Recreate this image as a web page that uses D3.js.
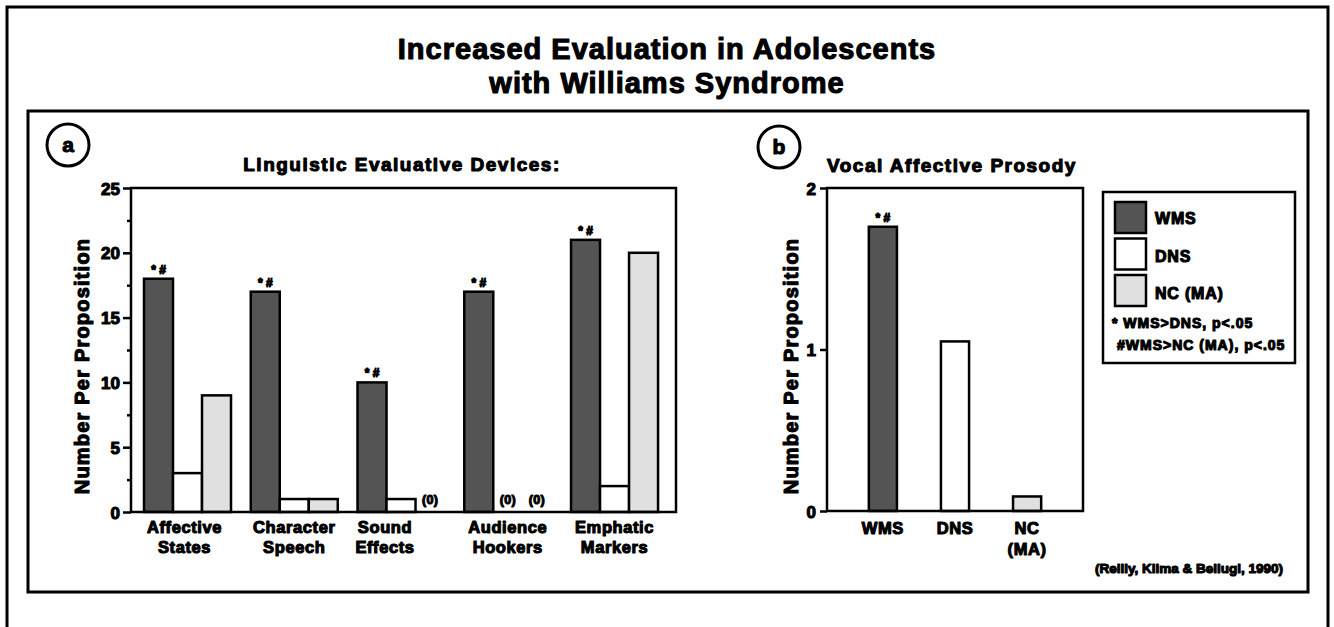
<!DOCTYPE html>
<html>
<head>
<meta charset="utf-8">
<script src="https://cdn.jsdelivr.net/npm/d3@7/dist/d3.min.js"></script>
<style>
  html, body { margin: 0; padding: 0; background: #fff; }
  svg { display: block; }
  text { font-family: "Liberation Sans", Arial, Helvetica, sans-serif; font-weight: bold; fill: #000; }
  .heavy { stroke: #000; stroke-width: 1.1px; stroke-linejoin: round; }
</style>
</head>
<body>
<svg id="chart" width="1334" height="627"></svg>
<script>
// ---------- data ----------
const titleLines = ["Increased Evaluation in Adolescents", "with Williams Syndrome"];
const panelATitle = "Linguistic Evaluative Devices:";
const panelBTitle = "Vocal Affective Prosody";
const yLabel = "Number Per Proposition";
const citation = "(Reilly, Klima & Bellugi, 1990)";

const groups = ["WMS", "DNS", "NC (MA)"];
const groupColors = ["#545454", "#ffffff", "#e0e0e0"];

const categoriesA = ["Affective States", "Character Speech", "Sound Effects", "Audience Hookers", "Emphatic Markers"];
const wmsA = [18, 17, 10, 17, 21];
const dnsA = [3, 1, 1, 0, 2];
const ncA  = [9, 1, 0, 0, 20];
const yTicksA = [0, 5, 10, 15, 20, 25];
const yMinorTicksA = [2.5, 7.5, 12.5, 17.5, 22.5];

const categoriesB = ["WMS", "DNS", "NC (MA)"];
const valuesB = [1.76, 1.05, 0.09];
const yTicksB = [0, 1, 2];

const sigMark = "* #";
const zeroMark = "(0)";
const legendNotes = ["* WMS>DNS, p<.05", "#WMS>NC (MA), p<.05"];

// ---------- drawing ----------
const svg = d3.select("#chart");

function txt(x, y, s, size, ls, anchor) {
  return svg.append("text").attr("class", "heavy")
    .attr("x", x).attr("y", y)
    .attr("text-anchor", anchor || "start")
    .style("font-size", size + "px")
    .style("letter-spacing", (ls || 0) + "px")
    .text(s);
}

// outer frame (open at the bottom)
svg.append("path")
  .attr("d", "M7,640 L7,7 L1328,7 L1328,640")
  .attr("fill", "none").attr("stroke", "#000").attr("stroke-width", 3);

// inner frame
svg.append("rect")
  .attr("x", 28).attr("y", 111).attr("width", 1280).attr("height", 481)
  .attr("fill", "none").attr("stroke", "#000").attr("stroke-width", 3);

// main title
titleLines.forEach((t, i) => txt(667, 59 + i * 34, t, 29, 1, "middle"));

// panel circles
function circleLabel(cx, cy, letter) {
  svg.append("circle").attr("cx", cx).attr("cy", cy).attr("r", 21)
    .attr("fill", "none").attr("stroke", "#000").attr("stroke-width", 3);
  txt(cx, cy + 7, letter, 21, 0, "middle");
}
circleLabel(68, 145, "a");
circleLabel(779, 147, "b");

// ----- Panel A -----
const A = { x0: 131, x1: 676, y0: 512, y1: 188 };
const yA = d3.scaleLinear().domain([0, 25]).range([A.y0, A.y1]);
const xA = d3.scaleBand().domain(categoriesA).range([A.x0, A.x1])
  .paddingInner(0.185).paddingOuter(0.145).align(0.42);
const xInA = d3.scaleBand().domain(groups).range([0, xA.bandwidth()]);
const seriesA = [wmsA, dnsA, ncA];

txt(402, 171, panelATitle, 19, 1.5, "middle");

// bars
categoriesA.forEach((cat, ci) => {
  groups.forEach((g, gi) => {
    const v = seriesA[gi][ci];
    const x = xA(cat) + xInA(g);
    if (v > 0) {
      svg.append("rect")
        .attr("x", x).attr("y", yA(v))
        .attr("width", xInA.bandwidth()).attr("height", yA(0) - yA(v))
        .attr("fill", groupColors[gi]).attr("stroke", "#000").attr("stroke-width", 2.5);
    } else {
      txt(x + xInA.bandwidth() / 2, yA(0) - 8, zeroMark, 12.5, 0.3, "middle");
    }
  });
  // significance mark above WMS bar
  txt(xA(cat) + xInA("WMS") + xInA.bandwidth() / 2, yA(wmsA[ci]) - 5, sigMark, 12, 0, "middle");
});

// frame A
svg.append("rect").attr("x", A.x0).attr("y", A.y1)
  .attr("width", A.x1 - A.x0).attr("height", A.y0 - A.y1)
  .attr("fill", "none").attr("stroke", "#000").attr("stroke-width", 2.5);

function styleAxis(g) {
  g.select(".domain").remove();
  g.selectAll("line").attr("stroke", "#000").attr("stroke-width", 2.5);
  g.selectAll("text").attr("class", "heavy").style("font-size", "17px")
    .style("font-family", "Liberation Sans, Arial, sans-serif").style("font-weight", "bold")
    .attr("fill", "#000").attr("dy", "0.36em");
}

// y axis A
const axA = svg.append("g").attr("transform", `translate(${A.x0},0)`)
  .call(d3.axisLeft(yA).tickValues(yTicksA).tickSize(8).tickPadding(3).tickFormat(d3.format("d")));
styleAxis(axA);
const axAm = svg.append("g").attr("transform", `translate(${A.x0},0)`)
  .call(d3.axisLeft(yA).tickValues(yMinorTicksA).tickSize(4).tickFormat(""));
axAm.select(".domain").remove();
axAm.selectAll("line").attr("stroke", "#000").attr("stroke-width", 2.5);

// x labels A
categoriesA.forEach((cat, ci) => {
  const cx = xA(cat) + xA.bandwidth() / 2 + (ci === 2 ? -16 : 0) + (ci === 0 ? -3 : 0);
  const t = svg.append("text").attr("class", "heavy").attr("text-anchor", "middle")
    .style("font-size", "16.5px").style("letter-spacing", "0.6px");
  cat.split(" ").forEach((w, li) => {
    t.append("tspan").attr("x", cx).attr("y", 533 + li * 20).text(w);
  });
});

// y label A
svg.append("text").attr("class", "heavy")
  .attr("transform", "translate(89,366) rotate(-90)")
  .attr("text-anchor", "middle").style("font-size", "20px").style("letter-spacing", "1.2px").text(yLabel);

// ----- Panel B -----
const B = { x0: 827, x1: 1083, y0: 511, y1: 188 };
const yB = d3.scaleLinear().domain([0, 2]).range([B.y0, B.y1]);
const xB = d3.scaleBand().domain(categoriesB).range([B.x0, B.x1])
  .paddingInner(0.61).paddingOuter(0.58).align(0.5);

txt(827, 172, panelBTitle, 19, 1.5, "start");

svg.selectAll("rect.barB").data(valuesB).join("rect")
  .attr("class", "barB")
  .attr("x", (d, i) => xB(categoriesB[i])).attr("y", d => yB(d))
  .attr("width", xB.bandwidth()).attr("height", d => yB(0) - yB(d))
  .attr("fill", (d, i) => groupColors[i]).attr("stroke", "#000").attr("stroke-width", 2.5);

txt(xB("WMS") + xB.bandwidth() / 2, yB(valuesB[0]) - 5, sigMark, 12, 0, "middle");

svg.append("rect").attr("x", B.x0).attr("y", B.y1)
  .attr("width", B.x1 - B.x0).attr("height", B.y0 - B.y1)
  .attr("fill", "none").attr("stroke", "#000").attr("stroke-width", 2.5);

const axB = svg.append("g").attr("transform", `translate(${B.x0},0)`)
  .call(d3.axisLeft(yB).tickValues(yTicksB).tickSize(7).tickPadding(4).tickFormat(d3.format("d")));
styleAxis(axB);

categoriesB.forEach(cat => {
  const cx = xB(cat) + xB.bandwidth() / 2;
  const t = svg.append("text").attr("class", "heavy").attr("text-anchor", "middle")
    .style("font-size", "16.5px").style("letter-spacing", "0.6px");
  cat.split(" ").forEach((w, li) => {
    t.append("tspan").attr("x", cx).attr("y", 534 + li * 21).text(w);
  });
});

svg.append("text").attr("class", "heavy")
  .attr("transform", "translate(798,366) rotate(-90)")
  .attr("text-anchor", "middle").style("font-size", "20px").style("letter-spacing", "1.2px").text(yLabel);

// ----- Legend -----
svg.append("rect").attr("x", 1103).attr("y", 192).attr("width", 192).attr("height", 171)
  .attr("fill", "#fff").attr("stroke", "#000").attr("stroke-width", 2.5);
groups.forEach((g, i) => {
  svg.append("rect").attr("x", 1115).attr("y", 202 + i * 36.5).attr("width", 31).attr("height", 31)
    .attr("fill", groupColors[i]).attr("stroke", "#000").attr("stroke-width", 2.5);
  txt(1155, 224 + i * 37.5, g, 16, 0.8, "start");
});
legendNotes.forEach((n, i) => {
  txt(i === 0 ? 1112 : 1117, 328 + i * 22, n, 14, 1, "start");
});

// citation
txt(1283, 573, citation, 13.5, 0, "end");
</script>
</body>
</html>
